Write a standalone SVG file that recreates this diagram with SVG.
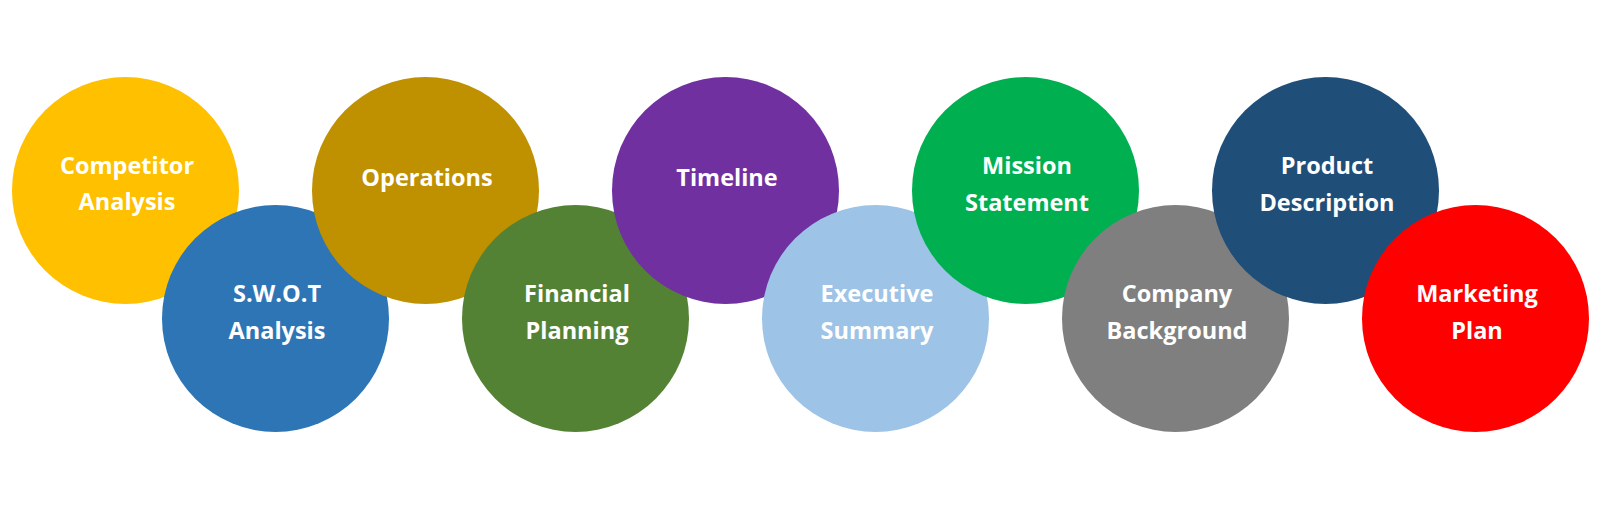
<svg xmlns="http://www.w3.org/2000/svg" width="1606" height="516" viewBox="0 0 1606 516">
<style>
.n{stroke:none}
.t{font-family:"Open Sans","Liberation Sans",sans-serif;font-weight:700;font-size:23.5px;fill:#FFFFFF;text-anchor:middle}
</style>
<rect width="1606" height="516" fill="#FFFFFF"/>
<g id="connectors"></g>
<g id="competitor-analysis"><circle class="n" cx="125.5" cy="190.5" r="113.5" fill="#FFC000"/><text class="t" x="127" y="174">Competitor</text><text class="t" x="127" y="210">Analysis</text></g>
<g id="swot-analysis"><circle class="n" cx="275.5" cy="318.5" r="113.5" fill="#2E75B6"/><text class="t" x="277" y="302">S.W.O.T</text><text class="t" x="277" y="338.5">Analysis</text></g>
<g id="operations"><circle class="n" cx="425.5" cy="190.5" r="113.5" fill="#BF9000"/><text class="t" x="427" y="185.5">Operations</text></g>
<g id="financial-planning"><circle class="n" cx="575.5" cy="318.5" r="113.5" fill="#548235"/><text class="t" x="577" y="302">Financial</text><text class="t" x="577" y="338.5">Planning</text></g>
<g id="timeline"><circle class="n" cx="725.5" cy="190.5" r="113.5" fill="#7030A0"/><text class="t" x="727" y="185.5">Timeline</text></g>
<g id="executive-summary"><circle class="n" cx="875.5" cy="318.5" r="113.5" fill="#9DC3E6"/><text class="t" x="877" y="302">Executive</text><text class="t" x="877" y="338.5">Summary</text></g>
<g id="mission-statement"><circle class="n" cx="1025.5" cy="190.5" r="113.5" fill="#00B050"/><text class="t" x="1027" y="174">Mission</text><text class="t" x="1027" y="210.5">Statement</text></g>
<g id="company-background"><circle class="n" cx="1175.5" cy="318.5" r="113.5" fill="#7F7F7F"/><text class="t" x="1177" y="302">Company</text><text class="t" x="1177" y="338.5">Background</text></g>
<g id="product-description"><circle class="n" cx="1325.5" cy="190.5" r="113.5" fill="#1F4E79"/><text class="t" x="1327" y="174">Product</text><text class="t" x="1327" y="210.5">Description</text></g>
<g id="marketing-plan"><circle class="n" cx="1475.5" cy="318.5" r="113.5" fill="#FF0000"/><text class="t" x="1477" y="302">Marketing</text><text class="t" x="1477" y="338.5">Plan</text></g>
</svg>
